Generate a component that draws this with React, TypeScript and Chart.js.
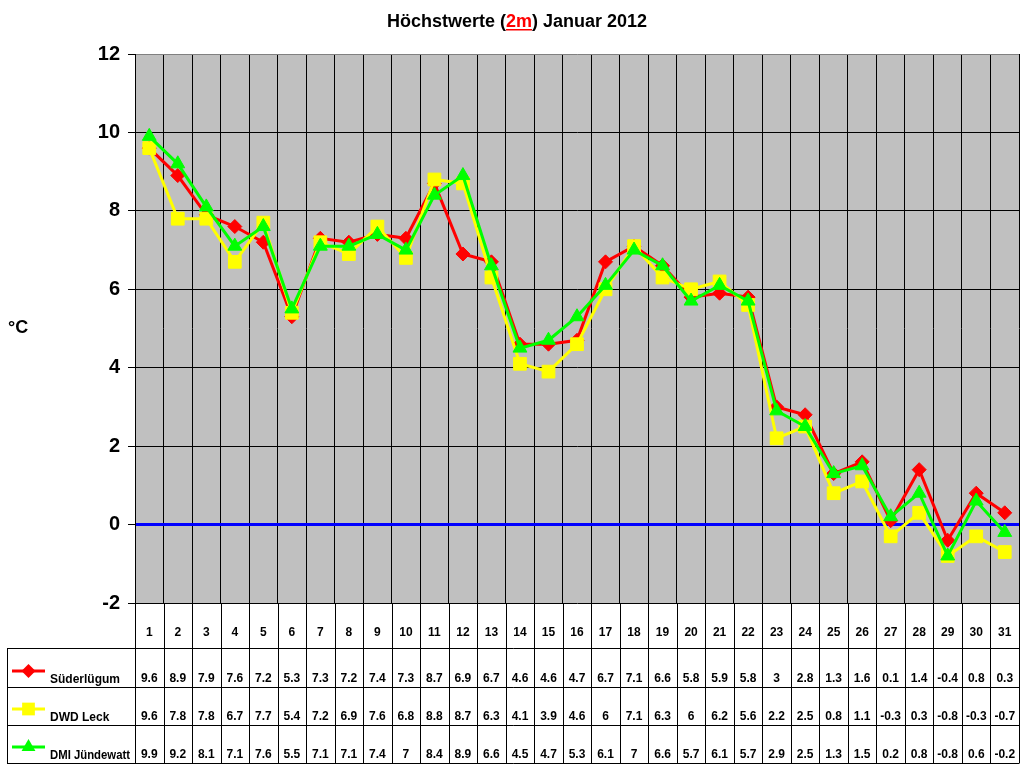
import React, { useEffect, useRef } from "react";
import { Chart, registerables } from "chart.js";

Chart.register(...registerables);

const days = ["1","2","3","4","5","6","7","8","9","10","11","12","13","14","15","16","17","18","19","20","21","22","23","24","25","26","27","28","29","30","31"];
const seriesNames = ["Süderlügum", "DWD Leck", "DMI Jündewatt"];
const suederluegum = [9.6,8.9,7.9,7.6,7.2,5.3,7.3,7.2,7.4,7.3,8.7,6.9,6.7,4.6,4.6,4.7,6.7,7.1,6.6,5.8,5.9,5.8,3,2.8,1.3,1.6,0.1,1.4,-0.4,0.8,0.3];
const dwdLeck = [9.6,7.8,7.8,6.7,7.7,5.4,7.2,6.9,7.6,6.8,8.8,8.7,6.3,4.1,3.9,4.6,6,7.1,6.3,6,6.2,5.6,2.2,2.5,0.8,1.1,-0.3,0.3,-0.8,-0.3,-0.7];
const dmiJuendewatt = [9.9,9.2,8.1,7.1,7.6,5.5,7.1,7.1,7.4,7,8.4,8.9,6.6,4.5,4.7,5.3,6.1,7,6.6,5.7,6.1,5.7,2.9,2.5,1.3,1.5,0.2,0.8,-0.8,0.6,-0.2];
const yTicks = [-2, 0, 2, 4, 6, 8, 10, 12];
const titleParts = ["Höchstwerte (", "2m", ") Januar 2012"];
const yUnit = "°C";

const FONT = "'Liberation Sans', Arial, sans-serif";

function drawMarker(ctx: CanvasRenderingContext2D, style: string, x: number, y: number, r: number, color: string) {
  ctx.save();
  ctx.fillStyle = color;
  ctx.beginPath();
  if (style === "rectRot") {
    ctx.moveTo(x, y - r);
    ctx.lineTo(x + r, y);
    ctx.lineTo(x, y + r);
    ctx.lineTo(x - r, y);
  } else if (style === "rect") {
    const s = r * Math.SQRT1_2;
    ctx.rect(x - s, y - s, 2 * s, 2 * s);
  } else {
    ctx.moveTo(x, y - r);
    ctx.lineTo(x + r * 0.866, y + r * 0.5);
    ctx.lineTo(x - r * 0.866, y + r * 0.5);
  }
  ctx.closePath();
  ctx.fill();
  ctx.restore();
}

export default function App() {
  const ref = useRef<HTMLCanvasElement | null>(null);

  useEffect(() => {
    if (!ref.current) return;
    const series = [
      { name: seriesNames[0], data: suederluegum, color: "#FF0000", style: "rectRot", r: 7, order: 3 },
      { name: seriesNames[1], data: dwdLeck, color: "#FFFF00", style: "rect", r: 9, order: 2 },
      { name: seriesNames[2], data: dmiJuendewatt, color: "#00FF00", style: "triangle", r: 8, order: 1 },
    ];

    const bgPlugin = {
      id: "bg",
      beforeDraw(chart: any) {
        const { ctx, chartArea } = chart;
        ctx.save();
        ctx.fillStyle = "#FFFFFF";
        ctx.fillRect(0, 0, chart.width, chart.height);
        ctx.fillStyle = "#C0C0C0";
        ctx.fillRect(chartArea.left, chartArea.top, chartArea.right - chartArea.left, chartArea.bottom - chartArea.top);
        ctx.restore();
      },
    };

    const tablePlugin = {
      id: "table",
      afterDraw(chart: any) {
        const { ctx, chartArea } = chart;
        const xs = chart.scales.x;
        const colW = (chartArea.right - chartArea.left) / days.length;
        const top = chartArea.bottom;
        const rowLines = [648, 687, 725, 763];
        const bottom = rowLines[rowLines.length - 1];
        ctx.save();
        ctx.strokeStyle = "#000000";
        ctx.lineWidth = 1;
        for (let i = 0; i <= days.length; i++) {
          const x = Math.round(xs.getPixelForValue(Math.min(i, days.length - 1)) + (i === days.length ? colW / 2 : -colW / 2)) + 0.5;
          ctx.beginPath();
          ctx.moveTo(x, top);
          ctx.lineTo(x, bottom);
          ctx.stroke();
        }
        for (const y of rowLines) {
          ctx.beginPath();
          ctx.moveTo(7, y + 0.5);
          ctx.lineTo(Math.round(chartArea.right) + 0.5, y + 0.5);
          ctx.stroke();
        }
        ctx.beginPath();
        ctx.moveTo(7.5, rowLines[0]);
        ctx.lineTo(7.5, bottom);
        ctx.stroke();

        ctx.fillStyle = "#000000";
        ctx.textAlign = "center";
        ctx.textBaseline = "middle";
        ctx.font = "bold 12px " + FONT;
        days.forEach((d, i) => {
          ctx.fillText(d, xs.getPixelForValue(i), 633);
        });
        const rowY = [679, 717, 755];
        series.forEach((s, si) => {
          ctx.textAlign = "center";
          ctx.font = "bold 12px " + FONT;
          s.data.forEach((v, i) => {
            ctx.fillText(String(v), xs.getPixelForValue(i), rowY[si], colW - 3);
          });
          const my = rowY[si] - 8;
          ctx.strokeStyle = s.color;
          ctx.lineWidth = 3;
          ctx.beginPath();
          ctx.moveTo(12, my);
          ctx.lineTo(45, my);
          ctx.stroke();
          drawMarker(ctx, s.style, 28.5, my, s.r, s.color);
          ctx.textAlign = "left";
          ctx.fillText(s.name, 50, rowY[si] + 1, 80);
        });

        ctx.font = "bold 18px " + FONT;
        ctx.textAlign = "left";
        ctx.fillText(yUnit, 8, 328);

        ctx.font = "bold 18px " + FONT;
        ctx.textBaseline = "alphabetic";
        const widths = titleParts.map((t) => ctx.measureText(t).width);
        const total = widths.reduce((a, b) => a + b, 0);
        let x = 517 - total / 2;
        titleParts.forEach((t, i) => {
          ctx.fillStyle = i === 1 ? "#FF0000" : "#000000";
          ctx.fillText(t, x, 27);
          if (i === 1) {
            ctx.fillRect(x, 29, widths[i], 1.5);
          }
          x += widths[i];
        });
        ctx.restore();
      },
    };

    const chart = new Chart(ref.current, {
      type: "line",
      data: {
        labels: days,
        datasets: series.map((s) => ({
          label: s.name,
          data: s.data,
          borderColor: s.color,
          backgroundColor: s.color,
          borderWidth: 3,
          pointStyle: s.style as any,
          pointRadius: s.r,
          pointBackgroundColor: s.color,
          pointBorderColor: s.color,
          pointBorderWidth: 1,
          tension: 0,
          order: s.order,
        })),
      },
      options: {
        responsive: false,
        animation: false,
        devicePixelRatio: 1,
        events: [],
        layout: { padding: { left: 0, top: 54, right: 5, bottom: 165 }, autoPadding: false } as any,
        plugins: {
          legend: { display: false },
          tooltip: { enabled: false },
          title: { display: false },
        },
        scales: {
          x: {
            type: "category",
            offset: true,
            grid: { offset: true, color: "#000000", lineWidth: 1, drawTicks: false },
            border: { display: false },
            ticks: { display: false },
            afterFit(scale: any) {
              scale.height = 0;
            },
          },
          y: {
            min: yTicks[0],
            max: yTicks[yTicks.length - 1],
            afterBuildTicks(scale: any) {
              scale.ticks = yTicks.map((v) => ({ value: v }));
            },
            afterFit(scale: any) {
              scale.width = 135;
            },
            grid: {
              color: (c: any) => (c.tick && c.tick.value === 0 ? "#0000FF" : c.tick && c.tick.value === 12 ? "#808080" : "#000000"),
              lineWidth: (c: any) => (c.tick && c.tick.value === 0 ? 3 : 1),
              tickColor: "#000000",
              tickWidth: 1,
              tickLength: 7,
              drawTicks: true,
            },
            border: { display: true, color: "#000000", width: 1 },
            ticks: {
              color: "#000000",
              padding: 8,
              font: { family: FONT, size: 20, weight: "bold" },
            },
          },
        },
      },
      plugins: [bgPlugin, tablePlugin],
    });
    return () => chart.destroy();
  }, []);

  return (
    <div style={{ position: "absolute", left: 0, top: 0, width: 1024, height: 768, background: "#fff" }}>
      <canvas ref={ref} width={1024} height={768} />
    </div>
  );
}
